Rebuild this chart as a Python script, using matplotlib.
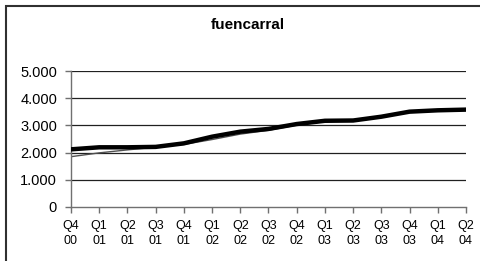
import numpy as np
import matplotlib.pyplot as plt
from matplotlib.patches import Rectangle

plt.rcParams['font.family'] = ['Liberation Sans', 'DejaVu Sans']

quarters = ["Q4\n00", "Q1\n01", "Q2\n01", "Q3\n01", "Q4\n01", "Q1\n02", "Q2\n02", "Q3\n02",
            "Q4\n02", "Q1\n03", "Q2\n03", "Q3\n03", "Q4\n03", "Q1\n04", "Q2\n04"]
precio = [2120, 2195, 2195, 2210, 2340, 2585, 2770, 2870, 3050, 3170, 3180, 3320, 3505, 3555, 3580]
tendencia = [1850, 1990, 2100, 2200, 2300, 2480, 2680, 2820, 3010, 3140, 3170, 3300, 3480, 3540, 3570]
y_ticks = [0, 1000, 2000, 3000, 4000, 5000]
y_labels = ["0", "1.000", "2.000", "3.000", "4.000", "5.000"]

W, H = 481, 261
fig = plt.figure(figsize=(W / 100, H / 100), dpi=100)
fig.patch.set_facecolor('white')

# outer frame (only top and left visible in the original crop)
fig.patches.append(Rectangle((5.5 / W, -0.2), 1.5, (H - 5.5) / H + 0.2, transform=fig.transFigure,
                             fill=False, edgecolor='#303030', lw=1.5))

ax = fig.add_axes([71 / W, 1 - 207 / H, (466 - 71) / W, (207 - 71) / H])
x = np.arange(len(quarters))

for t in y_ticks[1:]:
    ax.axhline(t, color='#202020', lw=0.9, zorder=1)

ax.plot(x, tendencia, color='#505050', lw=1.0, zorder=2, solid_joinstyle='round')
ax.plot(x, precio, color='black', lw=3.2, zorder=3, solid_joinstyle='round')

ax.set_xlim(0, len(quarters) - 1)
ax.set_ylim(0, 5000)
ax.set_yticks(y_ticks)
ax.set_yticklabels(y_labels, fontsize=10.5)
ax.set_xticks(x)
ax.set_xticklabels(quarters, fontsize=9, linespacing=1.4)

for s in ['top', 'right']:
    ax.spines[s].set_visible(False)
for s in ['left', 'bottom']:
    ax.spines[s].set_color('#707070')
    ax.spines[s].set_linewidth(1.0)
ax.tick_params(axis='both', direction='out', length=4, width=1.0, color='#707070')
ax.tick_params(axis='y', pad=6)
ax.tick_params(axis='x', pad=5)

fig.text(248 / W, 1 - 25 / H, "fuencarral", ha='center', va='center',
         fontsize=11, fontweight='bold')

fig.savefig("out.png", dpi=100)
